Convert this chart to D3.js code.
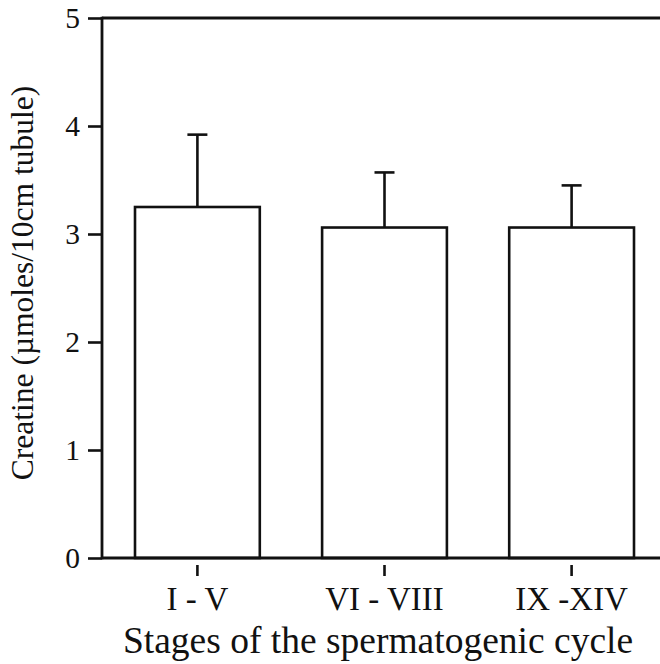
<!DOCTYPE html>
<html>
<head>
<meta charset="utf-8">
<script src="https://cdn.jsdelivr.net/npm/d3@7"></script>
<style>
  body { margin: 0; background: #fff; }
  svg { display: block; }
  text { font-family: "Liberation Serif", "Times New Roman", serif; fill: #111; }
</style>
</head>
<body>
<svg id="chart"></svg>
<script>
const svgWidth = 660;
const svgHeight = 664;
const serif = "'Liberation Serif', 'Times New Roman', serif";

// data
const stages = ["I - V", "VI - VIII", "IX -XIV"];
const creatine = [3.25, 3.06, 3.06];
const sem = [0.67, 0.51, 0.39];
const yTicks = [0, 1, 2, 3, 4, 5];

const axisX = 102;
const plotTop = 18;
const plotBottom = 558;

let svg = d3.select("#chart")
  .attr("width", svgWidth)
  .attr("height", svgHeight);

let x = d3.scaleBand()
  .domain(stages)
  .range([135, 634])
  .paddingInner(0.333)
  .paddingOuter(0);

let y = d3.scaleLinear()
  .domain([0, 5])
  .range([plotBottom, plotTop]);

// bars
svg.selectAll("rect.bar")
  .data(stages)
  .enter()
  .append("rect")
  .attr("class", "bar")
  .attr("x", d => x(d))
  .attr("y", (d, i) => y(creatine[i]))
  .attr("width", x.bandwidth())
  .attr("height", (d, i) => y(0) - y(creatine[i]))
  .attr("fill", "#fff")
  .attr("stroke", "#111")
  .attr("stroke-width", 2.6);

// error bars (upper only)
let capW = 20;
let err = svg.selectAll("g.err")
  .data(stages)
  .enter()
  .append("g")
  .attr("class", "err");

err.append("line")
  .attr("x1", d => x(d) + x.bandwidth() / 2)
  .attr("x2", d => x(d) + x.bandwidth() / 2)
  .attr("y1", (d, i) => y(creatine[i]))
  .attr("y2", (d, i) => y(creatine[i] + sem[i]))
  .attr("stroke", "#111")
  .attr("stroke-width", 2.6);

err.append("line")
  .attr("x1", d => x(d) + x.bandwidth() / 2 - capW / 2)
  .attr("x2", d => x(d) + x.bandwidth() / 2 + capW / 2)
  .attr("y1", (d, i) => y(creatine[i] + sem[i]))
  .attr("y2", (d, i) => y(creatine[i] + sem[i]))
  .attr("stroke", "#111")
  .attr("stroke-width", 2.6);

// y axis
let yAxis = svg.append("g")
  .attr("transform", "translate(" + axisX + ",0)")
  .call(d3.axisLeft(y).tickValues(yTicks).tickSize(14).tickPadding(8).tickFormat(d3.format("d")))
  .attr("font-family", serif)
  .attr("font-size", 29.5);
yAxis.select(".domain").remove();
yAxis.selectAll(".tick line").attr("stroke", "#111").attr("stroke-width", 2.6);
yAxis.selectAll(".tick text").attr("fill", "#111");

svg.append("line")
  .attr("x1", axisX).attr("x2", axisX)
  .attr("y1", plotTop - 1.3).attr("y2", plotBottom + 1.3)
  .attr("stroke", "#111").attr("stroke-width", 2.8);

// top and bottom frame lines
svg.append("line")
  .attr("x1", axisX).attr("x2", svgWidth)
  .attr("y1", plotTop).attr("y2", plotTop)
  .attr("stroke", "#111").attr("stroke-width", 2.8);

svg.append("line")
  .attr("x1", axisX).attr("x2", svgWidth)
  .attr("y1", plotBottom).attr("y2", plotBottom)
  .attr("stroke", "#111").attr("stroke-width", 2.8);

// x axis: short detached ticks
let xAxis = svg.append("g")
  .attr("transform", "translate(0," + plotBottom + ")")
  .call(d3.axisBottom(x).tickSize(0))
  .attr("font-family", serif)
  .attr("font-size", 33);
xAxis.select(".domain").remove();
xAxis.selectAll(".tick line")
  .attr("y1", 7).attr("y2", 18)
  .attr("stroke", "#111").attr("stroke-width", 2.6);
xAxis.selectAll(".tick text")
  .attr("y", 52)
  .attr("dy", null)
  .attr("fill", "#111");

// axis titles
svg.append("text")
  .attr("x", 378)
  .attr("y", 653)
  .attr("text-anchor", "middle")
  .attr("font-size", 37.5)
  .text("Stages of the spermatogenic cycle");

svg.append("text")
  .attr("transform", "translate(33,283) rotate(-90)")
  .attr("text-anchor", "middle")
  .attr("font-size", 31.5)
  .text("Creatine (\u00b5moles/10cm tubule)");
</script>
</body>
</html>
